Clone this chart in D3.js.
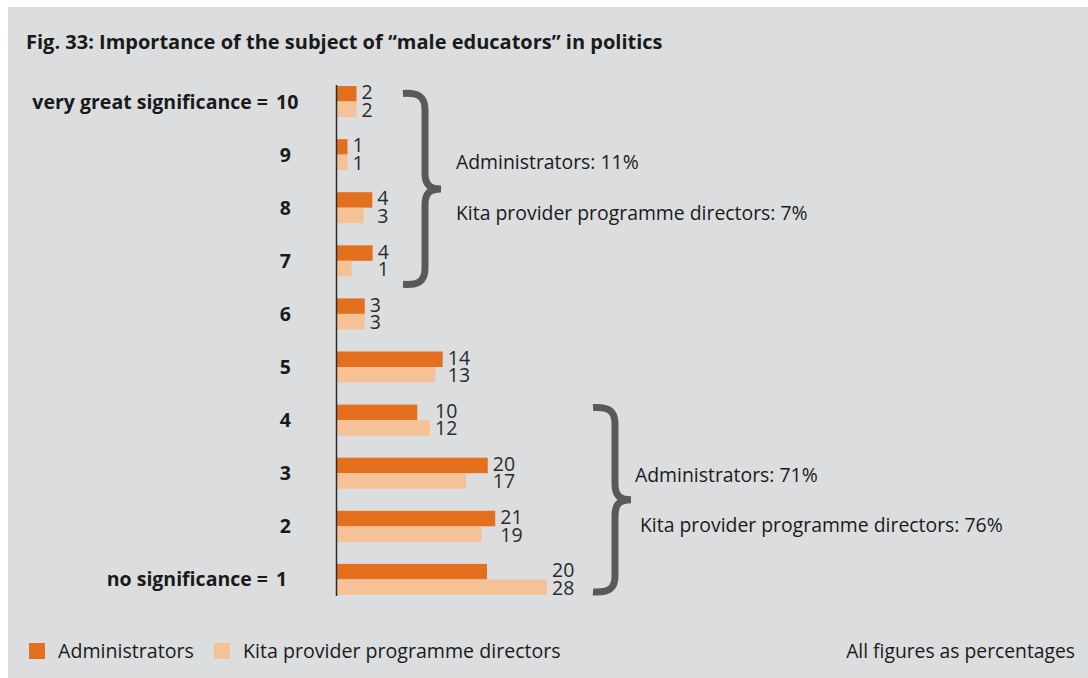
<!DOCTYPE html>
<html><head><meta charset="utf-8">
<script src="https://cdn.jsdelivr.net/npm/d3@7"></script>
<style>body{margin:0;background:#fff;}svg{display:block;}</style>
</head><body>
<script>
// ---- data ----
const categories = ["very great significance = 10","9","8","7","6","5","4","3","2","no significance = 1"];
const seriesNames = ["Administrators","Kita provider programme directors"];
// printed values (%)
const adminLabels = [2,1,4,4,3,14,10,20,21,20];
const kitaLabels  = [2,1,3,1,3,13,12,17,19,28];
const adminBars = [2.6,1.4,4.7,4.75,3.7,14.1,10.7,20.1,21.1,20];
const kitaBars  = [2.6,1.4,3.55,1.95,3.7,13.1,12.4,17.2,19.3,28];
const title = "Fig. 33: Importance of the subject of \u201cmale educators\u201d in politics";
const note = "All figures as percentages";
const topGroup = ["very great significance = 10","9","8","7"];
const bottomGroup = ["4","3","2","no significance = 1"];

const W=1088,H=678;
const colors = ["#e4701e","#f5c196"];
const svg = d3.select("body").append("svg").attr("width",W).attr("height",H);
svg.append("rect").attr("x",8).attr("y",7).attr("width",W-8).attr("height",H-7).attr("fill","#dcdddf");

const font = "'Open Sans', sans-serif";
svg.append("text").attr("x",26).attr("y",49).text(title)
  .attr("font-family",font).attr("font-weight",700).attr("font-size",20).attr("fill","#1a1a1a");

const p = 1-31/53.1;
const y = d3.scaleBand().domain(categories).range([86, 86+53.1*(10-p)]).paddingInner(p).paddingOuter(0);
const ys = d3.scaleBand().domain([0,1]).range([0,y.bandwidth()]);
const x = d3.scaleLinear().domain([0,28]).range([337,547]);

const rows = categories.map((c,i)=>({c, bars:[adminBars[i],kitaBars[i]], labels:[adminLabels[i],kitaLabels[i]]}));

const g = svg.append("g");
const row = g.selectAll("g.row").data(rows).join("g").attr("transform",d=>`translate(0,${y(d.c)})`);
row.selectAll("rect").data(d=>d.bars.map((v,k)=>({v,k}))).join("rect")
  .attr("x",x(0)).attr("y",d=>ys(d.k)).attr("height",ys.bandwidth())
  .attr("width",d=>x(d.v)-x(0)).attr("fill",d=>colors[d.k]);
row.each(function(d){
  const lx = x(Math.max(...d.bars))+5;
  d3.select(this).selectAll("text.val").data(d.labels).join("text").attr("class","val")
    .attr("x",lx).attr("y",(v,k)=>ys(k)+ys.bandwidth()/2+(k===0?5.5:7.5))
    .text(v=>v).attr("font-family",font).attr("font-size",19.5).attr("fill","#2b2b2b");
});
// category labels
const catStyle = t=>t.attr("font-family",font).attr("font-weight",700).attr("font-size",19.5).attr("fill","#1a1a1a");
row.each(function(d){
  const t = d3.select(this);
  const m = d.c.match(/^(.*)=\s*(\d+)$/);
  const base = y.bandwidth()/2+7;
  if(m){
    t.append("text").attr("x",276).attr("y",base).attr("text-anchor","start").text(m[2]).call(catStyle);
    t.append("text").attr("x",268).attr("y",base).attr("text-anchor","end").text(m[1].trim()+" =").call(catStyle);
  } else {
    t.append("text").attr("x",291).attr("y",base).attr("text-anchor","end").text(d.c).call(catStyle);
  }
});
// axis line
svg.append("line").attr("x1",x(0)-0.5).attr("x2",x(0)-0.5).attr("y1",85).attr("y2",y.range()[1]+1)
  .attr("stroke","#2b2b2b").attr("stroke-width",1.5);

// braces
function bracePath(x0,xs,xt,y1,y2){
  const ym=(y1+y2)/2, r=16;
  return `M${x0},${y1} C${x0+(xs-x0)*0.7},${y1-1} ${xs},${y1+3} ${xs},${y1+r}`+
    ` L${xs},${ym-r} C${xs},${ym-4} ${xs+(xt-xs)*0.3},${ym} ${xt},${ym}`+
    ` C${xs+(xt-xs)*0.3},${ym} ${xs},${ym+4} ${xs},${ym+r}`+
    ` L${xs},${y2-r} C${xs},${y2-3} ${x0+(xs-x0)*0.7},${y2+1} ${x0},${y2}`;
}
function sum(arr,grp){return grp.reduce((s,c)=>s+arr[categories.indexOf(c)],0);}
const braces = [
  {grp:topGroup, x0:403, xs:425, xt:441, y1:y(topGroup[0])+7.5, y2:y(topGroup[3])+y.bandwidth()+8, tx:[456,456], ty:[169,220]},
  {grp:bottomGroup, x0:593, xs:615, xt:631, y1:y(bottomGroup[0])+3, y2:y(bottomGroup[3])+y.bandwidth()-3, tx:[635,640], ty:[482,532]}
];
braces.forEach(b=>{
  svg.append("path").attr("d",bracePath(b.x0,b.xs,b.xt,b.y1,b.y2)).attr("fill","none")
    .attr("stroke","#58595b").attr("stroke-width",7);
  const vals=[sum(adminLabels,b.grp),sum(kitaLabels,b.grp)];
  seriesNames.forEach((n,k)=>{
    svg.append("text").attr("x",b.tx[k]).attr("y",b.ty[k]).text(`${n}: ${vals[k]}%`)
      .attr("font-family",font).attr("font-size",19.4).attr("fill","#1a1a1a");
  });
});

// legend
const lg = svg.append("g");
const legX=[29,214], legTX=[58,243];
seriesNames.forEach((n,k)=>{
  lg.append("rect").attr("x",legX[k]).attr("y",643).attr("width",16).attr("height",16).attr("fill",colors[k]);
  lg.append("text").attr("x",legTX[k]).attr("y",658).text(n).attr("font-family",font).attr("font-size",19.6).attr("fill","#1a1a1a");
});
lg.append("text").attr("x",1075).attr("y",658).attr("text-anchor","end").text(note)
  .attr("font-family",font).attr("font-size",19.3).attr("fill","#1a1a1a");
</script>
</body></html>
